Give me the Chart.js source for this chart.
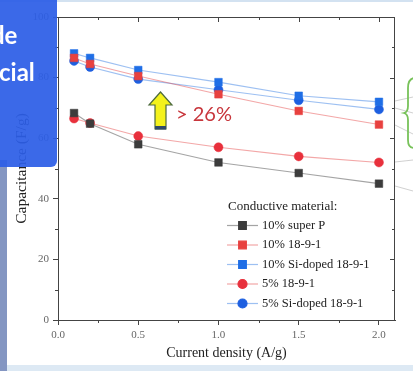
<!DOCTYPE html>
<html>
<head>
<meta charset="utf-8">
<script src="https://cdn.jsdelivr.net/npm/chart.js@4"></script>
<style>
body{margin:0;background:#fff;}
#wrap{position:relative;width:413px;height:371px;overflow:hidden;background:#fff;}
#wrap canvas{position:absolute;left:0;top:0;}
.topline{position:absolute;left:0;top:0;width:413px;height:2px;background:#d3e2f1;}
.bottomline{position:absolute;left:0;top:365px;width:413px;height:6px;background:#dde9f4;}
.leftstrip{position:absolute;left:0;top:160px;width:7px;height:211px;background:#8496c2;}
.box{position:absolute;left:0;top:0;width:57px;height:167px;background:rgba(44,94,230,0.93);border-bottom-right-radius:6px;overflow:hidden;
 font-family:Lato,"Open Sans",sans-serif;font-weight:bold;color:#fff;font-size:24px;line-height:24px;}
.box span{position:absolute;white-space:nowrap;}
.pct{position:absolute;left:176px;top:101px;font-family:Lato,"Open Sans",sans-serif;font-size:20px;color:#c8363c;white-space:nowrap;}
</style>
</head>
<body>
<div id="wrap">
<canvas id="chart" width="413" height="371"></canvas>
<div class="topline"></div>
<div class="bottomline"></div>
<div class="leftstrip"></div>
<div class="box"><span style="left:-9px;top:23px">de</span><span style="left:-1px;top:60px">cial</span></div>
<div class="pct">&gt; 26%</div>
</div>
<script>
// ---- data ----
const currentDensity = [0.1, 0.2, 0.5, 1.0, 1.5, 2.0];
const superP10 = [68.3, 64.8, 58, 52, 48.5, 45];
const mat10 = [86.5, 84.5, 80.5, 74.5, 69, 64.5];
const siDoped10 = [88, 86.5, 82.5, 78.5, 74, 72];
const mat5 = [66.5, 65, 60.7, 57, 54, 52];
const siDoped5 = [85.5, 83.5, 79.5, 76, 72.5, 69.5];
const seriesNames = ["10% super P", "10% 18-9-1", "10% Si-doped 18-9-1", "5% 18-9-1", "5% Si-doped 18-9-1"];
const xTicks = [0, 0.5, 1.0, 1.5, 2.0];
const yTicks = [0, 20, 40, 60, 80, 100];

const pts = vals => vals.map((v, i) => ({x: currentDensity[i], y: v}));

function series(label, vals, color, line, shape){
    return {
        label: label,
        data: pts(vals),
        borderColor: line,
        borderWidth: 1.1,
        backgroundColor: color,
        pointBackgroundColor: color,
        pointBorderColor: color,
        pointStyle: shape,
        pointRadius: shape === "rect" ? 5.4 : 4.5,
        pointBorderWidth: 0.5,
        tension: 0
    };
}

const serif = "'Liberation Serif', 'DejaVu Serif', serif";

// frame, minor/mirror ticks, leader lines, arrow, bracket
const decor = {
    id: "decor",
    afterDraw(chart){
        const {ctx, chartArea: a, scales: {x, y}} = chart;
        ctx.save();
        ctx.strokeStyle = "#444";
        ctx.lineWidth = 1;
        ctx.strokeRect(a.left + 0.5, a.top + 0.5, a.right - a.left - 1, a.bottom - a.top);
        ctx.beginPath();
        for (let v = 0; v <= 2.0001; v += 0.25){
            const px = Math.round(x.getPixelForValue(v)) + 0.5;
            const major = Math.abs(v * 2 - Math.round(v * 2)) < 1e-6;
            const len = major ? 5 : 3;
            ctx.moveTo(px, a.top); ctx.lineTo(px, a.top + len);
            if (!major){ ctx.moveTo(px, a.bottom); ctx.lineTo(px, a.bottom + len); }
        }
        for (let v = 0; v <= 100; v += 10){
            const py = Math.round(y.getPixelForValue(v)) + 0.5;
            const major = v % 20 === 0;
            const len = major ? 5 : 3;
            ctx.moveTo(a.right, py); ctx.lineTo(a.right - len, py);
            if (!major){ ctx.moveTo(a.left, py); ctx.lineTo(a.left - len, py); }
        }
        ctx.stroke();

        // faint leader lines to the right
        ctx.strokeStyle = "rgba(150,150,150,0.45)";
        ctx.beginPath();
        ctx.moveTo(a.right, 101); ctx.lineTo(413, 97);
        ctx.moveTo(a.right, 108); ctx.lineTo(413, 113);
        ctx.moveTo(a.right, 125); ctx.lineTo(413, 134);
        ctx.moveTo(a.right, 162); ctx.lineTo(413, 160);
        ctx.moveTo(a.right, 186); ctx.lineTo(413, 191);
        ctx.stroke();

        // green brace
        ctx.strokeStyle = "#78c25a";
        ctx.lineWidth = 1.8;
        ctx.beginPath();
        ctx.moveTo(414, 78);
        ctx.quadraticCurveTo(408, 79, 408, 88);
        ctx.lineTo(408, 106);
        ctx.quadraticCurveTo(408, 112, 404, 113);
        ctx.quadraticCurveTo(408, 114, 408, 120);
        ctx.lineTo(408, 140);
        ctx.quadraticCurveTo(408, 148, 414, 148);
        ctx.stroke();

        // yellow arrow
        ctx.fillStyle = "#f4f21c";
        ctx.strokeStyle = "#4c6a3c";
        ctx.lineWidth = 1.2;
        ctx.beginPath();
        ctx.moveTo(160.5, 92);
        ctx.lineTo(172, 105);
        ctx.lineTo(166, 105);
        ctx.lineTo(166, 129);
        ctx.lineTo(155, 129);
        ctx.lineTo(155, 105);
        ctx.lineTo(149, 105);
        ctx.closePath();
        ctx.fill();
        ctx.stroke();
        ctx.fillStyle = "#2f4a6a";
        ctx.fillRect(155, 126, 11, 3.5);
        ctx.restore();
    }
};

// legend drawn inside the plot
const innerLegend = {
    id: "innerLegend",
    afterDatasetsDraw(chart){
        const ctx = chart.ctx;
        const x0 = 228, y0 = 207, step = 19.5;
        ctx.save();
        ctx.fillStyle = "#222";
        ctx.textBaseline = "middle";
        ctx.font = "13px " + serif;
        ctx.fillText("Conductive material:", x0, y0);
        ctx.font = "12.5px " + serif;
        chart.data.datasets.forEach((ds, i) => {
            const yy = y0 + step * (i + 1) - 1;
            ctx.strokeStyle = ds.borderColor;
            ctx.lineWidth = 1.2;
            ctx.beginPath();
            ctx.moveTo(x0 - 1, yy); ctx.lineTo(x0 + 30, yy);
            ctx.stroke();
            ctx.fillStyle = ds.pointBackgroundColor;
            ctx.strokeStyle = ds.pointBorderColor;
            Chart.helpers.drawPoint(ctx, {pointStyle: ds.pointStyle, radius: ds.pointRadius, rotation: 0, borderWidth: 0.5}, x0 + 14.5, yy);
            ctx.fillStyle = "#222";
            ctx.fillText(ds.label, x0 + 34, yy);
        });
        ctx.restore();
    }
};

new Chart(document.getElementById("chart"), {
    type: "line",
    data: {
        datasets: [
            series(seriesNames[0], superP10, "#3c3c3c", "rgba(90,90,90,0.55)", "rect"),
            series(seriesNames[1], mat10, "#e8413f", "rgba(232,80,80,0.5)", "rect"),
            series(seriesNames[2], siDoped10, "#1f6ee6", "rgba(60,130,230,0.5)", "rect"),
            series(seriesNames[3], mat5, "#e8303c", "rgba(232,80,80,0.5)", "circle"),
            series(seriesNames[4], siDoped5, "#1d5fe0", "rgba(60,130,230,0.5)", "circle")
        ]
    },
    options: {
        responsive: false,
        animation: false,
        layout: {padding: {left: 0, top: 17, right: 18, bottom: 0}},
        plugins: {legend: {display: false}, tooltip: {enabled: false}},
        scales: {
            x: {
                type: "linear",
                min: 0,
                max: 2.1,
                afterBuildTicks: s => { s.ticks = xTicks.map(v => ({value: v})); },
                afterFit: s => { s.height = 51; },
                ticks: {
                    callback: v => v.toFixed(1),
                    color: "#666",
                    font: {family: serif, size: 11},
                    padding: 4
                },
                grid: {drawOnChartArea: false, tickLength: 5, tickColor: "#444"},
                border: {color: "#444"},
                title: {
                    display: true,
                    text: "Current density (A/g)",
                    color: "#222",
                    font: {family: serif, size: 14},
                    padding: {top: 0, bottom: 9}
                }
            },
            y: {
                min: 0,
                max: 100,
                afterBuildTicks: s => { s.ticks = yTicks.map(v => ({value: v})); },
                afterFit: s => { s.width = 58; },
                ticks: {
                    color: "#666",
                    font: {family: serif, size: 11},
                    padding: 4
                },
                grid: {drawOnChartArea: false, tickLength: 5, tickColor: "#444"},
                border: {color: "#444"},
                title: {
                    display: true,
                    text: "Capacitance (F/g)",
                    color: "#222",
                    font: {family: serif, size: 15.5},
                    padding: {top: 13, bottom: 0}
                }
            }
        }
    },
    plugins: [decor, innerLegend]
});
</script>
</body>
</html>
